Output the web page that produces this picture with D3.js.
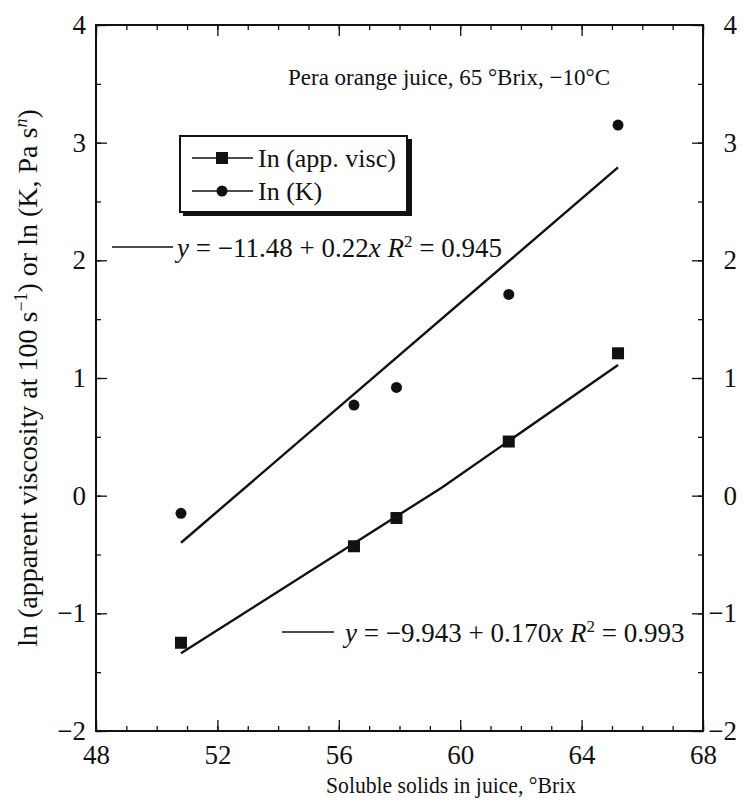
<!DOCTYPE html>
<html><head><meta charset="utf-8">
<script src="https://cdn.jsdelivr.net/npm/d3@7"></script>
<style>
body{margin:0;background:#fff;}
text{font-family:"Liberation Serif","Times New Roman",serif;fill:#111;}
</style></head><body>
<svg id="c" width="746" height="805"></svg>
<script>
const brix = [50.8, 56.5, 57.9, 61.6, 65.2];
const lnVisc = [-1.25, -0.43, -0.19, 0.46, 1.21];
const lnK = [-0.15, 0.77, 0.92, 1.71, 3.15];
const fitKLine = [[50.8, -0.40], [65.2, 2.79]];
const fitViscLine = [[50.8, -1.34], [59.4, 0.07], [65.2, 1.11]];
const xTicks = [48, 52, 56, 60, 64, 68];
const yTicks = [-2, -1, 0, 1, 2, 3, 4];
const xMinor = d3.range(48, 69, 1);
const yMinor = d3.range(-2, 4.01, 0.5);
const title = "Pera orange juice, 65 °Brix, \u221210°C";
const legendLabels = ["In (app. visc)", "In (K)"];

const svg = d3.select("#c");
const L = 96, R = 703, T = 25, B = 731;
const x = d3.scaleLinear().domain([48, 68]).range([L, R]);
const y = d3.scaleLinear().domain([-2, 4]).range([B, T]);
const fmt = d => d < 0 ? "\u2212" + Math.abs(d) : String(d);
const SERIF = "Liberation Serif, Times New Roman, serif";

// frame
svg.append("rect").attr("x", L).attr("y", T).attr("width", R - L).attr("height", B - T)
  .attr("fill", "none").attr("stroke", "#111").attr("stroke-width", 2);

// axes with inward ticks
function addAxis(gen, tr, vals, size, labels) {
  const g = svg.append("g").attr("transform", tr)
    .call(gen.tickValues(vals).tickSize(size).tickSizeOuter(0).tickFormat(labels ? fmt : ""));
  g.attr("font-family", SERIF);
  g.select(".domain").remove();
  g.selectAll("line").attr("stroke", "#111").attr("stroke-width", 1.3);
  g.selectAll("text").style("font-size", "27px").style("font-family", SERIF).attr("fill", "#111");
  return g;
}
const gb = addAxis(d3.axisBottom(x), `translate(0,${B})`, xTicks, -11, true);
gb.selectAll("text").attr("y", 14).attr("dy", "0.71em");
addAxis(d3.axisBottom(x), `translate(0,${B})`, xMinor, -5, false);
addAxis(d3.axisTop(x), `translate(0,${T})`, xTicks, -11, false);
addAxis(d3.axisTop(x), `translate(0,${T})`, xMinor, -5, false);
const gl = addAxis(d3.axisLeft(y), `translate(${L},0)`, yTicks, -11, true);
gl.selectAll("text").attr("x", -10);
addAxis(d3.axisLeft(y), `translate(${L},0)`, yMinor, -5, false);
const gr = addAxis(d3.axisRight(y), `translate(${R},0)`, yTicks, -11, true);
gr.selectAll("text").attr("x", 34).attr("text-anchor", "end");
addAxis(d3.axisRight(y), `translate(${R},0)`, yMinor, -5, false);

// fit lines
const line = d3.line().x(d => x(d[0])).y(d => y(d[1]));
svg.append("path").attr("d", line(fitKLine)).attr("fill", "none").attr("stroke", "#111").attr("stroke-width", 2.4);
svg.append("path").attr("d", line(fitViscLine)).attr("fill", "none").attr("stroke", "#111").attr("stroke-width", 2.4);

// points
svg.selectAll("rect.sq").data(brix).enter().append("rect")
  .attr("x", (d) => x(d) - 6).attr("y", (d, i) => y(lnVisc[i]) - 6)
  .attr("width", 12).attr("height", 12).attr("fill", "#111");
svg.selectAll("circle.ci").data(brix).enter().append("circle")
  .attr("cx", d => x(d)).attr("cy", (d, i) => y(lnK[i])).attr("r", 5.5).attr("fill", "#111");

// title
svg.append("text").attr("x", 449).attr("y", 85).attr("text-anchor", "middle")
  .style("font-size", "23px").text(title);

// legend
const lg = svg.append("g");
lg.append("rect").attr("x", 183).attr("y", 139).attr("width", 229).attr("height", 77).attr("fill", "#111");
lg.append("rect").attr("x", 180).attr("y", 136).attr("width", 227).attr("height", 76)
  .attr("fill", "#fff").attr("stroke", "#111").attr("stroke-width", 2);
const rows = [158, 191];
rows.forEach((ry, i) => {
  lg.append("line").attr("x1", 192).attr("x2", 253).attr("y1", ry).attr("y2", ry)
    .attr("stroke", "#111").attr("stroke-width", 1.5);
  if (i === 0) lg.append("rect").attr("x", 216).attr("y", ry - 6).attr("width", 12).attr("height", 12).attr("fill", "#111");
  else lg.append("circle").attr("cx", 222).attr("cy", ry).attr("r", 5.5).attr("fill", "#111");
  lg.append("text").attr("x", 258).attr("y", ry + 9).style("font-size", "26px").text(legendLabels[i]);
});

// equations
function eq(x1, x2, ly, tx, parts) {
  svg.append("line").attr("x1", x1).attr("x2", x2).attr("y1", ly).attr("y2", ly)
    .attr("stroke", "#111").attr("stroke-width", 1.5);
  const t = svg.append("text").attr("x", tx).attr("y", ly + 10).style("font-size", "27px");
  parts.forEach(p => {
    const s = t.append("tspan").text(p.t);
    if (p.i) s.style("font-style", "italic");
    if (p.sup) s.attr("dy", -10).style("font-size", "17px");
    if (p.down) s.attr("dy", 10);
  });
}
eq(112, 173, 247, 177, [{t: "y", i: 1}, {t: " = \u221211.48 + 0.22"}, {t: "x", i: 1}, {t: " "}, {t: "R", i: 1}, {t: "2", sup: 1}, {t: " = 0.945", down: 1}]);
eq(282, 334, 632, 345, [{t: "y", i: 1}, {t: " = \u22129.943 + 0.170"}, {t: "x", i: 1}, {t: " "}, {t: "R", i: 1}, {t: "2", sup: 1}, {t: " = 0.993", down: 1}]);

// axis titles
svg.append("text").attr("x", 451).attr("y", 793).attr("text-anchor", "middle")
  .style("font-size", "24px").attr("textLength", 250).attr("lengthAdjust", "spacingAndGlyphs")
  .text("Soluble solids in juice, °Brix");
const yl = svg.append("text").attr("transform", "translate(37,378) rotate(-90)").attr("text-anchor", "middle")
  .style("font-size", "28px");
yl.append("tspan").text("ln (apparent viscosity at 100 s");
yl.append("tspan").text("\u22121").attr("dy", -10).style("font-size", "18px");
yl.append("tspan").text(") or ln (K, Pa s").attr("dy", 10);
yl.append("tspan").text("n").attr("dy", -10).style("font-size", "18px").style("font-style", "italic");
yl.append("tspan").text(")").attr("dy", 10);
</script></body></html>
